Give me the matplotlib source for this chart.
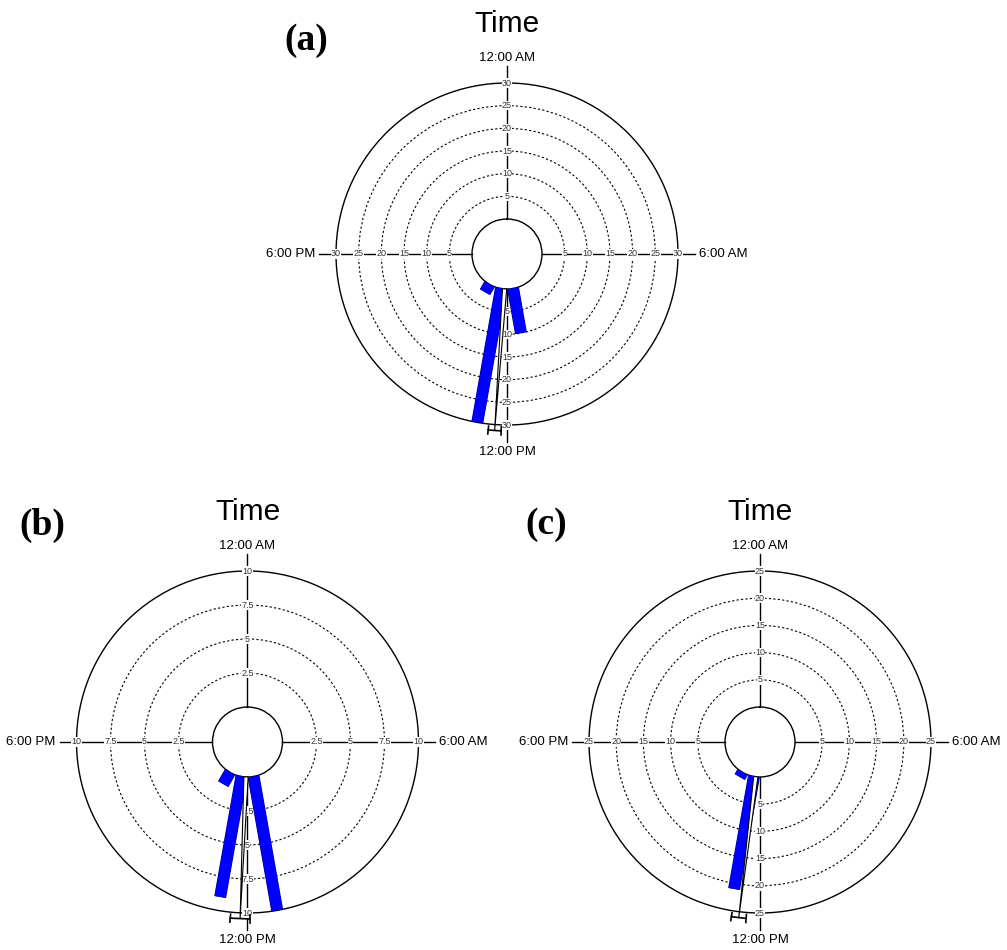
import numpy as np
import matplotlib
matplotlib.use('Agg')
import matplotlib.pyplot as plt
import matplotlib.patheffects as pe

plt.rcParams['font.family'] = ['Liberation Sans', 'DejaVu Sans']

# bins 20 deg wide, centres in degrees clockwise from 12:00 AM
bin_deg = [170, 190, 210]

counts_a = [10, 30, 2]
counts_b = [10, 9, 1]
counts_c = [0, 21, 1]

rticks_a = [5, 10, 15, 20, 25, 30]
rticks_b = [2.5, 5, 7.5, 10]
rticks_c = [5, 10, 15, 20, 25]

# mean direction and half width of the confidence interval (deg)
mean_a, ci_a = 184.0, 2.1
mean_b, ci_b = 182.4, 3.2
mean_c, ci_c = 186.9, 2.4

dir_labels = ['12:00 AM', '6:00 AM', '12:00 PM', '6:00 PM']

W, H = 1007, 950
R = 171     # outer circle radius, px
HOLE = 35   # radius of the empty centre, px
PT = 0.72   # points per pixel at dpi 100

fig = plt.figure(figsize=(W/100, H/100), dpi=100)


def rose(cx, cy, counts, rticks, mean, ci, letter, lx, ly):
    rmax = rticks[-1]
    u = rmax/(R - HOLE)  # data units per pixel
    ax = fig.add_axes([(cx - R)/W, (H - cy - R)/H, 2*R/W, 2*R/H], projection='polar')
    ax.set_theta_zero_location('N')
    ax.set_theta_direction(-1)
    ax.set_ylim(0, rmax)
    ax.set_rorigin(-HOLE*u)
    ax.set_xticks([])
    ax.set_yticks(rticks[:-1])
    ax.set_yticklabels([])
    ax.yaxis.grid(True, color='k', lw=0.8, ls=(0, (2, 2)))
    ax.spines['polar'].set_linewidth(1)
    ax.spines['inner'].set_linewidth(1)

    ext = rmax + 17*u
    offs = [(0, 5, 'center', 'baseline'), (4, 0, 'left', 'center'),
            (0, -4, 'center', 'top'), (-4, 0, 'right', 'center')]
    for k, lab in enumerate(dir_labels):
        th = np.deg2rad(90*k)
        ax.plot([th, th], [0, ext], color='k', lw=1, clip_on=False, zorder=2)
        for v in rticks:
            ax.text(th, v, f'{v:g}', fontsize=6.5, ha='center', va='center', zorder=3,
                    color='#333333', bbox=dict(fc='white', ec='none', pad=0.2))
        dx, dy, ha, va = offs[k]
        ax.annotate(lab, xy=(th, ext), xytext=(dx*PT, dy*PT), textcoords='offset points',
                    ha=ha, va=va, fontsize=9.5, annotation_clip=False)

    for d, n in zip(bin_deg, counts):
        if n == 0:
            continue
        th = np.deg2rad(d)
        ax.plot([th, th], [0, n], color='#0000ff', lw=11*PT, solid_capstyle='butt', zorder=4,
                path_effects=[pe.Stroke(linewidth=12*PT, foreground='#000070'), pe.Normal()])

    # mean vector with confidence interval
    m = np.deg2rad(mean)
    c = np.deg2rad(ci)
    half = np.deg2rad(3.5)
    tip = rmax + 6*u
    ax.fill([m - half, m + half, m], [0, 0, tip], fc='white', ec='k', lw=0.8,
            zorder=5, clip_on=False)
    ax.plot([m - c, m + c], [tip, tip], color='k', lw=1.2, clip_on=False, zorder=6)
    for t in (m - c, m + c):
        ax.plot([t, t], [tip - 4*u, tip + 4*u], color='k', lw=1.2, clip_on=False, zorder=6)

    fig.text(cx/W, 1 - (cy - 222)/H, 'Time', fontsize=21.5, ha='center', va='baseline')
    fig.text(lx/W, 1 - ly/H, letter, fontsize=27, fontweight='bold',
             family='Liberation Serif', ha='center', va='center')
    return ax


rose(507, 254, counts_a, rticks_a, mean_a, ci_a, '(a)', 306, 41)
rose(247.5, 742, counts_b, rticks_b, mean_b, ci_b, '(b)', 42, 525)
rose(760, 742, counts_c, rticks_c, mean_c, ci_c, '(c)', 546, 525)

fig.savefig('out.png', dpi=100)
